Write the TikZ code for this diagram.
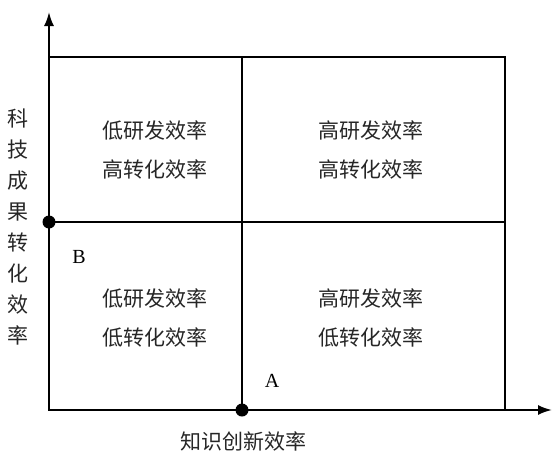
\documentclass[tikz,border=0pt]{standalone}
\usepackage{fontspec}
\newfontfamily\cjk{Noto Sans CJK SC}
\setmainfont{Liberation Serif}
\usetikzlibrary{arrows.meta}
\begin{document}
\begin{tikzpicture}[x=1pt,y=-1pt,
  axis/.style={line width=2pt,-{Latex[length=14pt,width=10pt]}},
  grid/.style={line width=2pt},
  dot/.style={circle,fill=black,inner sep=0pt,minimum size=13pt},
  quad/.style={font=\cjk\fontsize{21}{39}\selectfont,align=center,text=black!85},
  lbl/.style={font=\fontsize{20}{20}\selectfont}]
\useasboundingbox (0,0) rectangle (552,453);
\coordinate (O) at (49,410);
\coordinate (ytip) at (49,12);
\coordinate (xtip) at (552,410);
\draw[grid] (49,57) rectangle (505,410);
\draw[grid] (242,57) -- (242,410);
\draw[grid] (49,222) -- (505,222);
\draw[axis] (O) -- (ytip);
\draw[axis] (O) -- (xtip);
\node[dot] (Bdot) at (49,222) {};
\node[dot] (Adot) at (242,410) {};
\node[lbl] (B) at (79,257) {B};
\node[lbl] (A) at (272,381) {A};
\node[quad] (q1) at (155,150) {低研发效率\\高转化效率};
\node[quad] (q2) at (371,150) {高研发效率\\高转化效率};
\node[quad] (q3) at (155,318) {低研发效率\\低转化效率};
\node[quad] (q4) at (371,318) {高研发效率\\低转化效率};
\node[font=\cjk\fontsize{21}{22}\selectfont,text=black!85] (xl) at (243,441) {知识创新效率};
\node[font=\cjk\fontsize{21}{31}\selectfont,align=center,text=black!85] (yl) at (18,227) {科\\技\\成\\果\\转\\化\\效\\率};
\end{tikzpicture}
\end{document}
